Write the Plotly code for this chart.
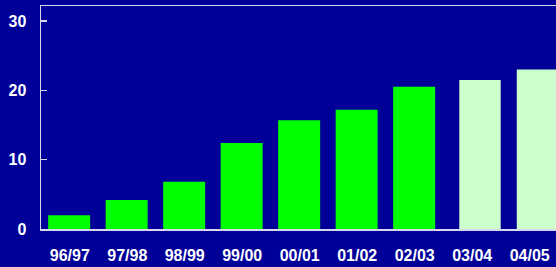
import plotly.graph_objects as go

actual_years = ["96/97", "97/98", "98/99", "99/00", "00/01", "01/02", "02/03"]
actual_values = [2.0, 4.2, 6.8, 12.4, 15.7, 17.2, 20.5]
projected_years = ["03/04", "04/05"]
projected_values = [21.5, 23.0]
y_ticks = [0, 10, 20, 30]

BG = "#000099"
AXIS = "#D8D8EC"
FONT = dict(family="Liberation Sans, Arial, sans-serif", size=16, color="white", weight="bold")

fig = go.Figure()
fig.add_trace(go.Bar(x=actual_years, y=actual_values, marker=dict(color="#00FF00", line=dict(width=0)),
                     width=0.73, offset=-0.375))
fig.add_trace(go.Bar(x=projected_years, y=projected_values, marker=dict(color="#CCFFCC", line=dict(width=0)),
                     width=0.72, offset=-0.225))

fig.update_layout(
    width=556, height=267,
    margin=dict(l=41, r=0, t=6, b=38, autoexpand=False),
    paper_bgcolor=BG, plot_bgcolor=BG,
    barmode="overlay", showlegend=False,
    font=FONT,
)
fig.update_xaxes(
    type="category", categoryorder="array", categoryarray=actual_years + projected_years,
    range=[-0.5, 8.457], showline=True, linecolor=AXIS, linewidth=1.5, mirror=True,
    showgrid=False, ticks="", tickfont=FONT, ticklabelstandoff=11, zeroline=False,
    automargin=False,
)
fig.update_yaxes(
    range=[0, 32.16], tickvals=y_ticks, showline=True, linecolor=AXIS, linewidth=1.5,
    showgrid=False, ticks="inside", ticklen=6, tickcolor=AXIS, tickwidth=1.5,
    tickfont=FONT, ticklabelstandoff=10, zeroline=False, automargin=False,
)

fig.write_html("out.html", config={"displayModeBar": False, "staticPlot": True},
               post_script="document.body.style.margin='0';document.body.style.background='#000099';")
